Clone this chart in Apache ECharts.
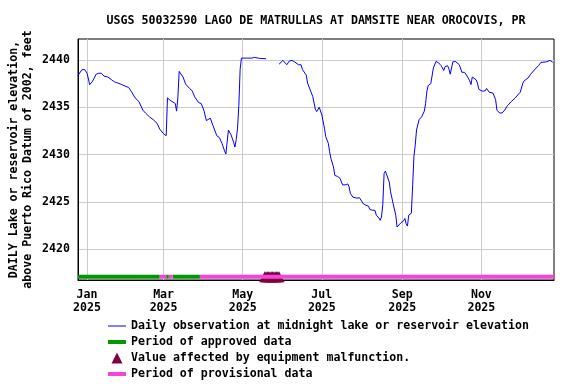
<!DOCTYPE html>
<html>
<head>
<meta charset="utf-8">
<script src="https://cdn.jsdelivr.net/npm/echarts@6/dist/echarts.min.js"></script>
<style>
html,body{margin:0;padding:0;background:#fff;}
#chart{width:576px;height:384px;}
</style>
</head>
<body>
<div id="chart"></div>
<script>
// Title and labels
const chartTitle = 'USGS 50032590 LAGO DE MATRULLAS AT DAMSITE NEAR OROCOVIS, PR';
const yAxisTitle = 'DAILY Lake or reservoir elevation,\nabove Puerto Rico Datum of 2002, feet';
const seriesNames = [
  'Daily observation at midnight lake or reservoir elevation',
  'Period of approved data',
  'Value affected by equipment malfunction.',
  'Period of provisional data'
];

// X ticks: days since 2025-01-01
const xTickDays = [0, 59, 120, 181, 243, 304];
const xTickLabels = ['Jan\n2025', 'Mar\n2025', 'May\n2025', 'Jul\n2025', 'Sep\n2025', 'Nov\n2025'];
const yTickValues = [2420, 2425, 2430, 2435, 2440];
const yTickLabels = ['2420', '2425', '2430', '2435', '2440'];

// Daily elevation observations (day offset from 2025-01-01, elevation ft); null = gap
const obsDays = [-7,-4,-2,0,2,4,5,7,9,11,13,16,19,21,23,26,30,32,34,37,40,43,45,48,51,54,56,59,61,62,64,68,69,70,71,74,76,79,81,83,86,88,90,92,93,95,97,100,102,104,106,107,108,109,111,113,114,115,116,117,118,119,120,123,124,127,129,133,138,143,148,151,154,156,158,160,163,165,166,169,170,172,174,176,177,179,180,181,183,184,186,187,188,190,191,193,195,197,199,201,202,203,205,208,210,211,213,215,217,218,220,222,223,225,226,227,228,229,230,231,233,234,236,238,239,240,242,244,245,246,247,248,250,251,252,253,254,256,258,260,261,262,263,265,266,267,269,270,271,273,275,276,278,279,280,282,284,285,287,289,291,293,295,296,297,298,300,301,302,305,307,308,310,313,315,316,318,320,322,324,327,330,332,334,336,337,340,342,345,348,350,354,357,359];
const obsElev = [2438.37,2438.97,2439.0,2438.6,2437.4,2437.7,2437.9,2438.5,2438.6,2438.6,2438.3,2438.2,2437.9,2437.7,2437.6,2437.45,2437.2,2437.1,2436.7,2436.0,2435.6,2434.7,2434.4,2434.0,2433.7,2433.3,2432.7,2432.2,2432.0,2436.0,2435.75,2435.4,2434.6,2436.0,2438.8,2438.2,2437.45,2437.0,2436.75,2436.1,2435.5,2435.4,2434.7,2433.6,2433.5,2433.85,2433.1,2432.0,2431.8,2431.2,2430.4,2430.06,2430.06,2432.6,2432.1,2431.3,2430.8,2431.6,2432.8,2435.2,2439.0,2440.2,2440.1,2440.2,2440.3,2440.2,2440.28,2440.17,2440.14,null,2439.55,2439.96,2439.5,2439.9,2439.96,2439.8,2439.5,2439.5,2439.0,2438.4,2437.56,2436.85,2436.14,2434.8,2434.55,2435.0,2434.8,2434.2,2432.8,2431.9,2431.2,2430.3,2429.6,2428.7,2427.8,2427.7,2427.5,2426.8,2426.8,2426.9,2426.6,2425.9,2425.5,2425.4,2425.45,2425.26,2424.8,2424.65,2424.55,2424.2,2424.13,2424.1,2423.6,2423.3,2423.06,2423.4,2424.7,2428.0,2428.26,2428.1,2427.1,2426.07,2424.8,2423.6,2422.35,2422.3,2422.8,2423.0,2423.25,2422.7,2422.45,2423.6,2423.8,2426.7,2429.8,2431.0,2432.6,2433.7,2434.0,2434.6,2435.4,2436.7,2437.3,2437.5,2437.6,2439.15,2439.85,2439.96,2439.7,2439.4,2438.9,2439.3,2439.4,2439.05,2438.5,2439.8,2439.85,2439.85,2439.5,2438.7,2438.7,2438.3,2437.8,2437.4,2438.2,2438.4,2437.9,2437.56,2436.9,2436.7,2436.75,2437.0,2436.6,2436.5,2435.8,2434.7,2434.4,2434.4,2434.7,2435.15,2435.6,2435.97,2436.3,2436.6,2437.56,2437.8,2438.1,2438.5,2438.97,2439.4,2439.75,2439.8,2439.96,2439.75];

// Data-status periods [startDay, endDay]
const approvedPeriods = [[-7, 56], [61, 63], [66, 87]];
const provisionalPeriods = [[56, 61], [63, 66], [87, 360]];
// Days with equipment-malfunction flag
const malfunctionDays = [137,138,139,140,141,142,143,144,145,146,147,148];

// ---- layout / style constants ----
const BAR_LEVEL = 2417.1;
const FONT = 'DejaVu Sans Mono';
const FS = 11.6;
const labelStyle = {fontFamily: FONT, fontSize: FS, fontWeight: 'bold', color: '#000'};

const obsData = obsDays.map((d, i) => [d, obsElev[i] === null ? '-' : obsElev[i]]);
function periodData(periods) {
  const out = [];
  periods.forEach((p, i) => {
    if (i > 0) out.push([(periods[i-1][1] + p[0]) / 2, '-']);
    out.push([p[0], BAR_LEVEL]);
    out.push([p[1], BAR_LEVEL]);
  });
  return out;
}

const chart = echarts.init(document.getElementById('chart'), null, {renderer: 'canvas'});
chart.setOption({
  animation: false,
  backgroundColor: '#fff',
  textStyle: {fontFamily: FONT},
  title: {
    text: chartTitle, left: 316, top: 15, textAlign: 'center', padding: 0,
    textStyle: labelStyle
  },
  grid: {left: 78, right: 22, top: 39, bottom: 104, containLabel: false, outerBoundsMode: 'none',
         show: true, borderColor: '#000', borderWidth: 1, backgroundColor: 'transparent'},
  legend: {
    orient: 'vertical', left: 108, top: 318, padding: 0, itemGap: 0,
    itemWidth: 18, itemHeight: 11, selectedMode: false,
    textStyle: Object.assign({lineHeight: 16}, labelStyle),
    data: [
      {name: seriesNames[0], icon: 'path://M0,0 L18,0 L18,1 L0,1 Z'},
      {name: seriesNames[1], icon: 'path://M0,0 L18,0 L18,4 L0,4 Z'},
      {name: seriesNames[2], icon: 'path://M5.5,0 L11,11 L0,11 Z', itemStyle: {color: '#800040', opacity: 1}},
      {name: seriesNames[3], icon: 'path://M0,0 L18,0 L18,4 L0,4 Z'}
    ]
  },
  xAxis: {
    type: 'value', min: -7, max: 360,
    axisLine: {show: true, onZero: false, lineStyle: {color: '#000', width: 1}},
    axisTick: {show: false, customValues: xTickDays},
    axisLabel: Object.assign({
      customValues: xTickDays, margin: 8, lineHeight: 13,
      formatter: v => { const i = xTickDays.indexOf(v); return i >= 0 ? xTickLabels[i] : ''; }
    }, labelStyle),
    splitLine: {show: true, lineStyle: {color: '#cccccc', width: 1}}
  },
  yAxis: {
    type: 'value', min: 2416.75, max: 2442.22,
    name: yAxisTitle, nameLocation: 'middle', nameRotate: 90, nameGap: 43, nameMoveOverlap: false,
    nameTextStyle: Object.assign({lineHeight: 14}, labelStyle),
    axisLine: {show: true, onZero: false, lineStyle: {color: '#000', width: 1}},
    axisTick: {show: false, customValues: yTickValues},
    axisLabel: Object.assign({
      customValues: yTickValues, margin: 8,
      formatter: v => { const i = yTickValues.indexOf(v); return i >= 0 ? yTickLabels[i] : ''; }
    }, labelStyle),
    splitLine: {show: true, lineStyle: {color: '#cccccc', width: 1}}
  },
  series: [
    {
      name: seriesNames[2], type: 'scatter', z: 2,
      symbol: 'triangle', symbolSize: 11,
      itemStyle: {color: '#800040', opacity: 1},
      data: malfunctionDays.map(d => [d, BAR_LEVEL])
    },
    {
      name: seriesNames[1], type: 'line', z: 3, symbol: 'none', showSymbol: false, connectNulls: false,
      lineStyle: {color: '#009900', width: 4, cap: 'butt'}, itemStyle: {color: '#009900'},
      data: periodData(approvedPeriods)
    },
    {
      name: seriesNames[3], type: 'line', z: 3, symbol: 'none', showSymbol: false, connectNulls: false,
      lineStyle: {color: '#f444dc', width: 4, cap: 'butt'}, itemStyle: {color: '#f444dc'},
      data: periodData(provisionalPeriods)
    },
    {
      name: seriesNames[0], type: 'line', z: 4, symbol: 'none', showSymbol: false, connectNulls: false,
      lineStyle: {color: '#0000ff', width: 1}, itemStyle: {color: '#0000ff'},
      data: obsData
    }
  ]
});
</script>
</body>
</html>
